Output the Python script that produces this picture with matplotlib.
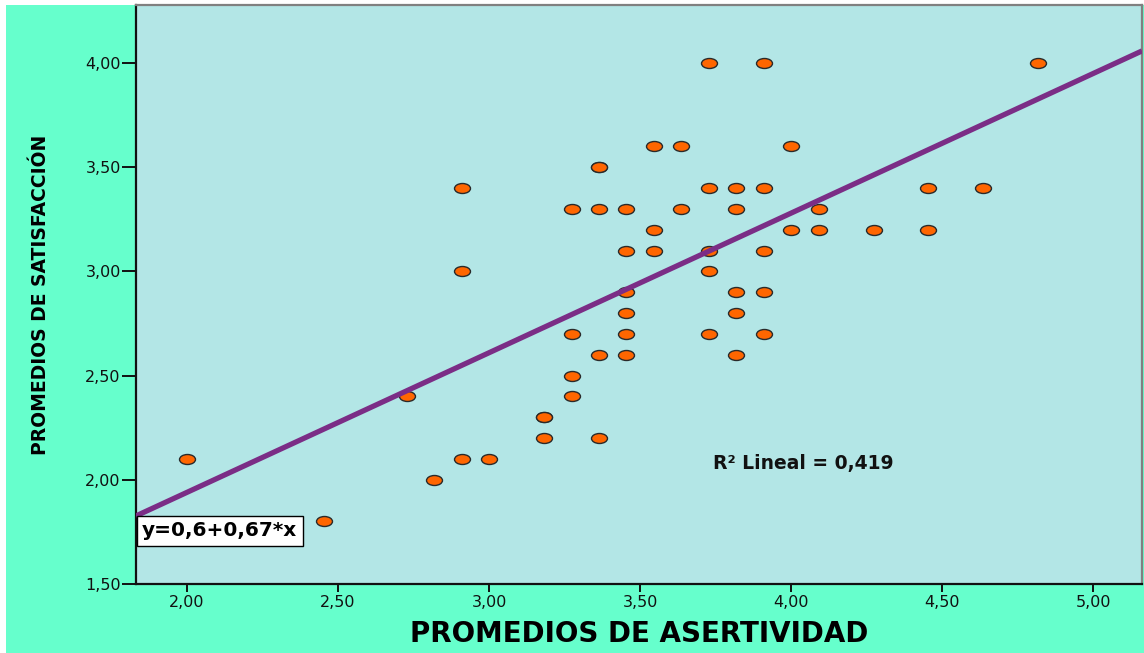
import numpy as np
import matplotlib.pyplot as plt
from matplotlib.path import Path
from matplotlib.transforms import Affine2D
from matplotlib.patches import Rectangle

# Promedios de asertividad (x) y de satisfacción (y) por persona
asertividad = [2.000, 2.455, 2.727, 2.818, 2.909, 2.909, 2.909, 3.000,
               3.182, 3.182, 3.182, 3.273, 3.273, 3.273, 3.273,
               3.364, 3.364, 3.364, 3.364, 3.364,
               3.455, 3.455, 3.455, 3.455, 3.455, 3.455,
               3.545, 3.545, 3.545, 3.636, 3.636,
               3.727, 3.727, 3.727, 3.727, 3.727,
               3.818, 3.818, 3.818, 3.818, 3.818,
               3.909, 3.909, 3.909, 3.909, 3.909,
               4.000, 4.000, 4.091, 4.091, 4.273, 4.455, 4.455, 4.636, 4.818]
satisfaccion = [2.1, 1.8, 2.4, 2.0, 3.4, 3.0, 2.1, 2.1,
                2.3, 2.3, 2.2, 3.3, 2.7, 2.5, 2.4,
                3.5, 3.5, 3.3, 2.6, 2.2,
                3.3, 3.1, 2.9, 2.8, 2.7, 2.6,
                3.6, 3.2, 3.1, 3.6, 3.3,
                4.0, 3.4, 3.1, 3.0, 2.7,
                3.4, 3.3, 2.9, 2.8, 2.6,
                4.0, 3.4, 3.1, 2.9, 2.7,
                3.6, 3.2, 3.3, 3.2, 3.2, 3.4, 3.2, 3.4, 4.0]

# Recta de regresión ajustada
intercepto = 0.6
pendiente = 0.67
r2 = 0.419

x_ticks = [2.0, 2.5, 3.0, 3.5, 4.0, 4.5, 5.0]
y_ticks = [1.5, 2.0, 2.5, 3.0, 3.5, 4.0]
x_lim = (1.831, 5.162)
y_lim = (1.5, 4.279)

def coma(v):
    return f"{v:.2f}".replace('.', ',')

fig = plt.figure(figsize=(11.44, 6.53), dpi=100, facecolor='white')
# fondo verde del gráfico
fig.patches.append(Rectangle((6 / 1144, 0), 1, 1 - 5 / 653, transform=fig.transFigure,
                             facecolor='#66FFCC', edgecolor='none', zorder=-10))

ax = fig.add_axes([136 / 1144, 69 / 653, 1006 / 1144, 579 / 653])
ax.set_facecolor('#B3E6E6')

# marcador elíptico
elipse = Path.unit_circle().transformed(Affine2D().scale(1.6, 1.0))
ax.plot(asertividad, satisfaccion, linestyle='none', marker=elipse, markersize=11.5,
        markerfacecolor='#FF6600', markeredgecolor='#2A2A2A', markeredgewidth=1.0, zorder=3)

xs = np.array(x_lim)
ax.plot(xs, intercepto + pendiente * xs, color='#7B2D86', linewidth=3.8, zorder=4,
        solid_capstyle='butt')

ax.set_xlim(*x_lim)
ax.set_ylim(*y_lim)
ax.set_xticks(x_ticks)
ax.set_yticks(y_ticks)
ax.set_xticklabels([coma(v) for v in x_ticks])
ax.set_yticklabels([coma(v) for v in y_ticks])
ax.tick_params(axis='y', length=10, width=1.4, pad=1, labelsize=11.5, colors='#111111')
ax.tick_params(axis='x', length=6, width=1.4, pad=2, labelsize=11.5, colors='#111111')

for lado in ['left', 'bottom']:
    ax.spines[lado].set_color('#111111')
    ax.spines[lado].set_linewidth(1.6)
for lado in ['top', 'right']:
    ax.spines[lado].set_color('#808080')
    ax.spines[lado].set_linewidth(1.6)

ax.set_xlabel('PROMEDIOS DE ASERTIVIDAD', fontsize=20, fontweight='bold',
              family=['DejaVu Sans'], labelpad=7)
ax.set_ylabel('PROMEDIOS DE SATISFACCIÓN', fontsize=13.5, fontweight='bold',
              family=['DejaVu Sans'], labelpad=25)

# ecuación junto al inicio de la recta
ax.annotate(f"y={coma(intercepto)[:-1]}+{coma(pendiente)}*x",
            xy=(x_lim[0], intercepto + pendiente * x_lim[0]), xycoords='data',
            xytext=(4.5, -4.0), textcoords='offset points', ha='left', va='top',
            fontsize=14.5, fontweight='bold', color='black', zorder=6,
            bbox=dict(boxstyle='square,pad=0.25', facecolor='white', edgecolor='black', linewidth=1))

ax.text(0.5736, 0.2073, f"R² Lineal = {r2:.3f}".replace('.', ','), transform=ax.transAxes,
        ha='left', va='center', fontsize=13.5, fontweight='bold', color='#111111', zorder=6)

fig.savefig('out.png', dpi=100, facecolor=fig.get_facecolor())
